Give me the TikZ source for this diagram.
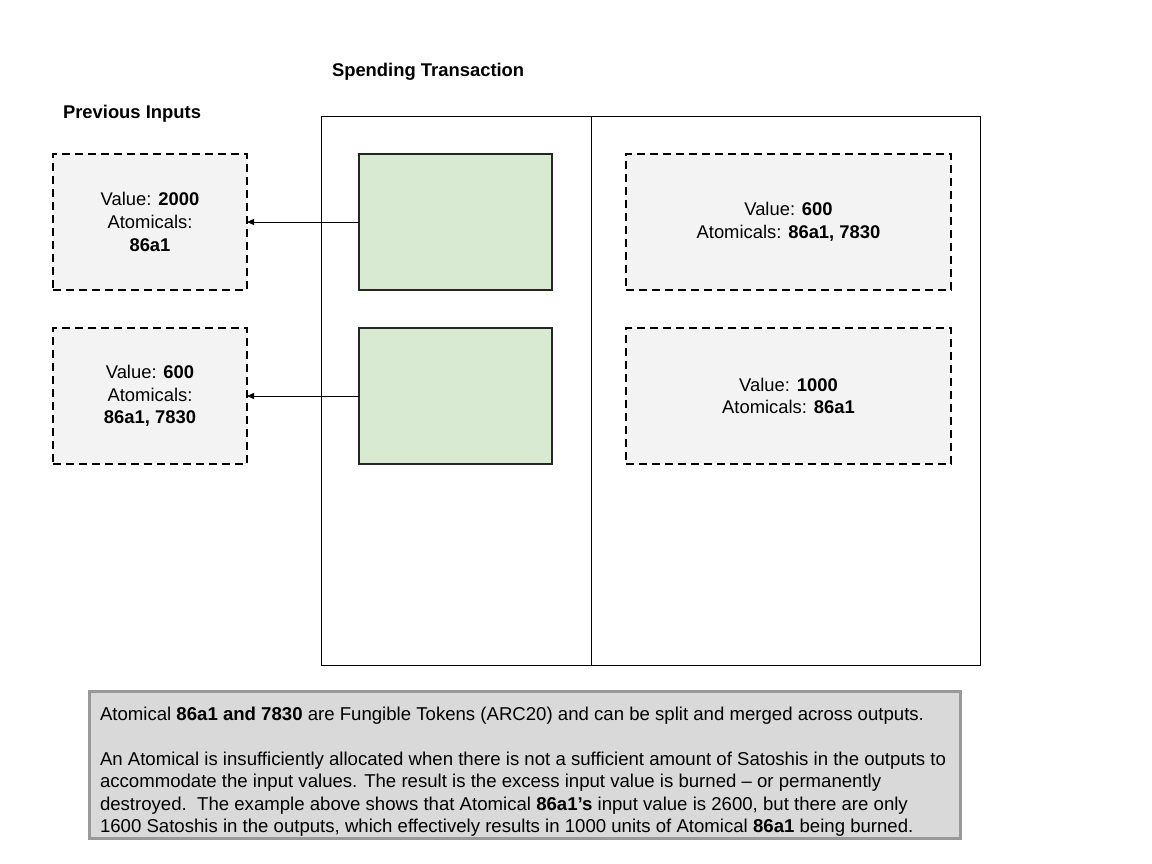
\documentclass[tikz,border=0pt]{standalone}
\usepackage{fontspec}
\setmainfont{Liberation Sans}
\usetikzlibrary{arrows.meta}
\definecolor{boxgray}{HTML}{F3F3F3}
\definecolor{boxgreen}{HTML}{D9EAD3}
\definecolor{notefill}{HTML}{D9D9D9}
\definecolor{noteborder}{HTML}{999999}
\begin{document}
\begin{tikzpicture}[x=1pt,y=-1pt,
  every node/.style={font=\fontsize{18.4}{22.6}\selectfont, outer sep=0pt},
  dbox/.style={draw=black, fill=boxgray, line width=2pt, dash pattern=on 8pt off 5pt,
    minimum height=136pt, align=center, inner sep=0pt},
  gbox/.style={draw=black!85, fill=boxgreen, line width=2pt, minimum width=193pt, minimum height=136pt, inner sep=0pt},
  conn/.style={line width=1pt, -{Triangle[length=7pt,width=6pt]}},
  hdr/.style={font=\fontsize{18.4}{22.6}\selectfont\bfseries, anchor=base west, inner sep=0pt}
]
\useasboundingbox (0,0) rectangle (1152,864);
\fill[white] (0,0) rectangle (1152,864);

\node[hdr] (title) at (332,76.5) {Spending Transaction};
\node[hdr] (prev) at (63,118.5) {Previous Inputs};

\node[draw=black, line width=1pt, minimum width=659pt, minimum height=548pt, anchor=north west, inner sep=0pt] (tx) at (321,117) {};
\coordinate (dtop) at (591,117);
\coordinate (dbot) at (591,665);
\draw[line width=1pt] (dtop) -- (dbot);

\node[dbox, minimum width=194pt] (in1) at (150,222) {Value: \textbf{2000}\\Atomicals:\\\textbf{86a1}};
\node[dbox, minimum width=194pt] (in2) at (150,396) {Value: \textbf{600}\\Atomicals:\\\textbf{86a1, 7830}};

\node[gbox] (g1) at (455.5,222) {};
\node[gbox] (g2) at (455.5,396) {};

\node[dbox, minimum width=325pt] (out1) at (788.5,222) {Value: \textbf{600}\\Atomicals: \textbf{86a1, 7830}};
\node[dbox, minimum width=325pt] (out2) at (788.5,396) {Value: \textbf{1000}\\Atomicals: \textbf{86a1}};

\draw[conn] (g1.west) -- (in1.east);
\draw[conn] (g2.west) -- (in2.east);

\node[draw=noteborder, fill=notefill, line width=3pt, minimum width=871pt, minimum height=147pt, anchor=north west, inner sep=0pt] (note) at (89,691) {};
\node[anchor=north west, align=left, inner sep=0pt, font=\fontsize{18.6}{22.5}\selectfont] (notetext) at (100,707) {Atomical \textbf{86a1 and 7830} are Fungible Tokens (ARC20) and can be split and merged across outputs.\\[22.5pt]
An Atomical is insufficiently allocated when there is not a sufficient amount of Satoshis in the outputs to\\
accommodate the input values. The result is the excess input value is burned – or permanently\\
destroyed.\ \ The example above shows that Atomical \textbf{86a1’s} input value is 2600, but there are only\\
1600 Satoshis in the outputs, which effectively results in 1000 units of Atomical \textbf{86a1} being burned.};
\end{tikzpicture}
\end{document}
